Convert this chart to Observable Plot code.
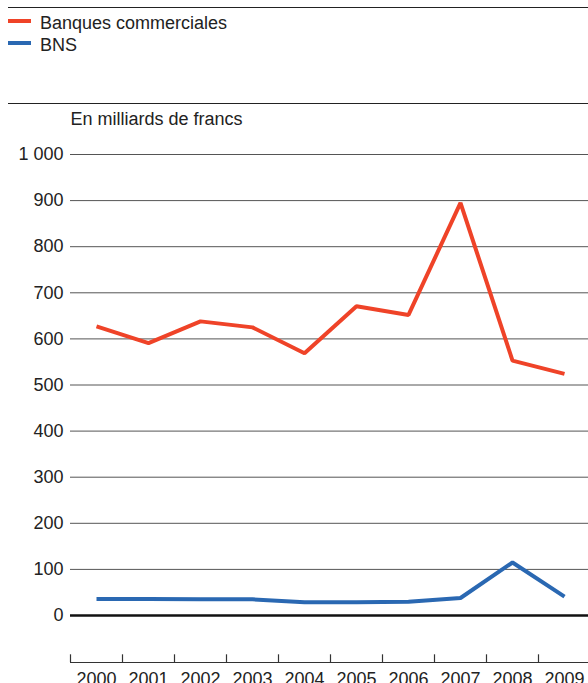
<!DOCTYPE html>
<html>
<head>
<meta charset="utf-8">
<script src="https://cdn.jsdelivr.net/npm/d3@7"></script>
<script src="https://cdn.jsdelivr.net/npm/@observablehq/plot@0.6"></script>
<style>
  html, body { margin: 0; padding: 0; background: #fff; }
  body { width: 588px; height: 683px; overflow: hidden; font-family: "Liberation Sans", Arial, sans-serif; color: #222; }
  #header { position: relative; width: 588px; height: 104px; }
  .hline { position: absolute; left: 8px; right: 0; height: 1px; background: #222; }
  .sw { position: absolute; left: 8px; width: 23px; height: 4px; }
  .lt { position: absolute; left: 40px; font-size: 18px; line-height: 18px; white-space: nowrap; }
  #chart svg { display: block; }
</style>
</head>
<body>
<div id="header"></div>
<div id="chart"></div>
<script>
const years = [2000, 2001, 2002, 2003, 2004, 2005, 2006, 2007, 2008, 2009];
const banques = [627, 591, 638, 625, 569, 671, 652, 895, 553, 524];
const bns = [36, 36, 35.5, 35, 29, 29, 30, 38, 115, 41];
const seriesNames = ["Banques commerciales", "BNS"];
const seriesColors = ["#ef4328", "#2a68b2"];
const yTicks = [0, 100, 200, 300, 400, 500, 600, 700, 800, 900, 1000];
const yTickLabels = ["0", "100", "200", "300", "400", "500", "600", "700", "800", "900", "1 000"];
const unitLabel = "En milliards de francs";
const yearBoundaries = years.map(y => y - 0.5);

// Header (legend)
const header = document.getElementById("header");
header.innerHTML = `
  <div class="hline" style="top:7px"></div>
  <div class="sw" style="top:18.7px;background:${seriesColors[0]}"></div>
  <div class="lt" style="top:14.1px">${seriesNames[0]}</div>
  <div class="sw" style="top:41.3px;background:${seriesColors[1]}"></div>
  <div class="lt" style="top:35.5px">${seriesNames[1]}</div>
  <div class="hline" style="top:103px"></div>
`;

const H = 579, MT = 50, MB = 68;
const frameH = H - MT - MB;

const chart = Plot.plot({
  width: 588,
  height: H,
  marginLeft: 70,
  marginRight: 0,
  marginTop: MT,
  marginBottom: MB,
  style: { fontFamily: "Liberation Sans, Arial, sans-serif", fontSize: "18px", color: "#222", background: "#fff", overflow: "visible" },
  x: { domain: [1999.5, 2009.5], range: [70, 590], axis: null },
  y: { domain: [0, 1000], axis: null },
  marks: [
    Plot.text([unitLabel], { frameAnchor: "top-left", textAnchor: "start", lineAnchor: "middle", dy: -35, fontSize: 18, fill: "#222" }),
    Plot.gridY(yTicks, { stroke: "#555", strokeOpacity: 1, strokeWidth: 1 }),
    Plot.axisY(yTicks, { tickSize: 0, tickPadding: 7, fontSize: 18, fill: "#222", label: null,
      tickFormat: d => yTickLabels[yTicks.indexOf(d)] }),
    Plot.ruleY([0], { stroke: "#111", strokeWidth: 2.5 }),
    Plot.ruleY([0], { dy: 47, stroke: "#333", strokeWidth: 1.2 }),
    Plot.tickX(yearBoundaries, { x: d => d, insetTop: frameH - 7.7, dy: 47, stroke: "#333", strokeWidth: 1.2 }),
    Plot.axisX(years, { tickSize: 0, tickPadding: 0, dy: 57, fontSize: 18, fill: "#222", label: null, tickFormat: d => String(d) }),
    Plot.line(years, { x: d => d, y: (d, i) => banques[i], stroke: seriesColors[0], strokeWidth: 4, strokeLinejoin: "miter", strokeLinecap: "butt" }),
    Plot.line(years, { x: d => d, y: (d, i) => bns[i], stroke: seriesColors[1], strokeWidth: 4, strokeLinejoin: "miter", strokeLinecap: "butt" })
  ]
});
document.getElementById("chart").appendChild(chart);
</script>
</body>
</html>
